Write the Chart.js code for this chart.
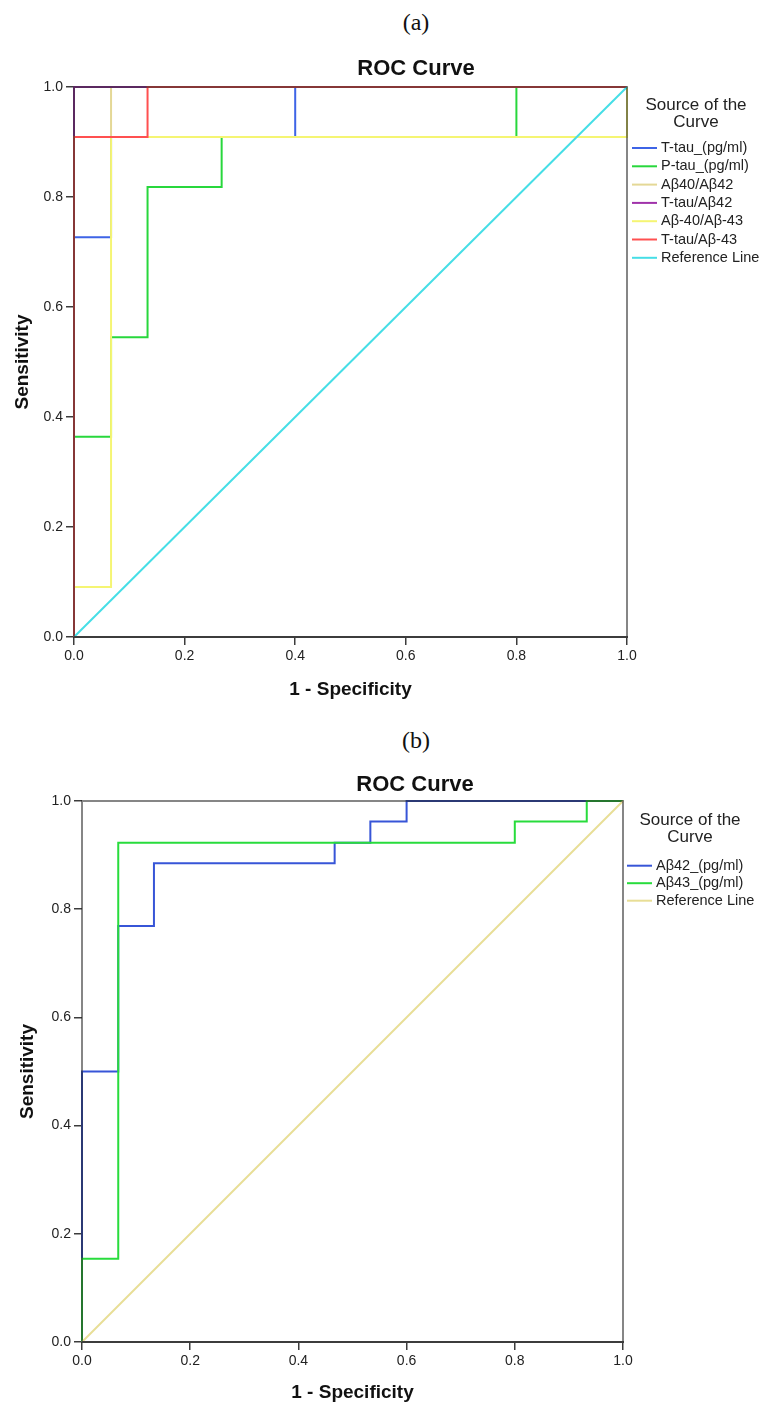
<!DOCTYPE html>
<html>
<head>
<meta charset="utf-8">
<title>ROC Curves</title>
<script src="https://cdn.jsdelivr.net/npm/chart.js@4.4.1/dist/chart.umd.min.js"></script>
<style>
  body { margin: 0; background: #fff; width: 763px; height: 1407px; position: relative; overflow: hidden; }
  .panel-label { position: absolute; left: 366px; width: 100px; text-align: center; line-height: 28px;
                 font-family: "Liberation Serif", "Times New Roman", serif; font-size: 24px; color: #111; }
  canvas { position: absolute; left: 0; }
</style>
</head>
<body>
<div class="panel-label" style="top:8px">(a)</div>
<canvas id="rocA" width="763" height="710" style="top:0"></canvas>
<div class="panel-label" style="top:726px">(b)</div>
<canvas id="rocB" width="763" height="697" style="top:710px"></canvas>

<script>
// ---- panel (a): ROC vertices (1 - specificity, sensitivity) ----
const labelsA = ['T-tau_(pg/ml)', 'P-tau_(pg/ml)', 'Aβ40/Aβ42', 'T-tau/Aβ42', 'Aβ-40/Aβ-43', 'T-tau/Aβ-43', 'Reference Line'];

const tTauX = [0, 0, 0.067, 0.067, 0.4, 0.4, 1];
const tTauY = [0, 0.727, 0.727, 0.909, 0.909, 1, 1];

const pTauX = [0, 0, 0.067, 0.067, 0.133, 0.133, 0.267, 0.267, 0.8, 0.8, 1];
const pTauY = [0, 0.364, 0.364, 0.545, 0.545, 0.818, 0.818, 0.909, 0.909, 1, 1];

const ab40ab42X = [0, 0, 0.067, 0.067, 1];
const ab40ab42Y = [0, 0.909, 0.909, 1, 1];

const tTauAb42X = [0, 0, 1];
const tTauAb42Y = [0, 1, 1];

const ab40ab43X = [0, 0, 0.067, 0.067, 1, 1];
const ab40ab43Y = [0, 0.091, 0.091, 0.909, 0.909, 1];

const tTauAb43X = [0, 0, 0.133, 0.133, 1];
const tTauAb43Y = [0, 0.909, 0.909, 1, 1];

const refX = [0, 1];
const refY = [0, 1];

// ---- panel (b) ----
const labelsB = ['Aβ42_(pg/ml)', 'Aβ43_(pg/ml)', 'Reference Line'];

const ab42X = [0, 0, 0.067, 0.067, 0.133, 0.133, 0.467, 0.467, 0.533, 0.533, 0.6, 0.6, 1];
const ab42Y = [0, 0.5, 0.5, 0.769, 0.769, 0.885, 0.885, 0.923, 0.923, 0.962, 0.962, 1, 1];

const ab43X = [0, 0, 0.067, 0.067, 0.8, 0.8, 0.933, 0.933, 1];
const ab43Y = [0, 0.154, 0.154, 0.923, 0.923, 0.962, 0.962, 1, 1];

const axisTicks = [0, 0.2, 0.4, 0.6, 0.8, 1.0];

// line colours, SPSS default palette
const coloursA = ['rgb(62,100,230)', 'rgb(40,215,60)', 'rgb(228,216,150)', 'rgb(160,50,170)',
                  'rgb(245,245,115)', 'rgb(255,80,80)', 'rgb(70,222,230)'];
const coloursB = ['rgb(55,85,215)', 'rgb(40,220,60)', 'rgb(232,222,150)'];

const FONT = '"Liberation Sans", Arial, sans-serif';

// frame, title and the SPSS style legend
function rocDecor(cfg) {
  return {
    id: 'rocDecor',
    afterDatasetsDraw(chart) {
      const { ctx, chartArea: a } = chart;
      ctx.save();
      // frame goes over the curves so edge segments darken like the original
      ctx.lineWidth = 2;
      ctx.strokeStyle = 'rgba(35,35,35,0.55)';
      ctx.strokeRect(a.left, a.top, a.right - a.left, a.bottom - a.top);
      ctx.strokeStyle = '#3c3c3c';
      ctx.beginPath();
      ctx.moveTo(a.left, a.bottom);
      ctx.lineTo(a.right + 1, a.bottom);
      ctx.stroke();
      ctx.restore();
    },
    afterDraw(chart) {
      const { ctx, chartArea: a } = chart;
      ctx.save();
      ctx.fillStyle = '#111';
      ctx.textBaseline = 'middle';
      ctx.textAlign = 'center';
      ctx.font = 'bold 22px ' + FONT;
      ctx.fillText('ROC Curve', cfg.titleX, cfg.titleY);

      ctx.fillStyle = '#222';
      ctx.font = '17px ' + FONT;
      ctx.fillText('Source of the', a.right + cfg.legTitleDx, a.top + cfg.legTitleDy);
      ctx.fillText('Curve', a.right + cfg.legTitleDx, a.top + cfg.legTitleDy + 17);

      ctx.textAlign = 'left';
      ctx.font = '14.5px ' + FONT;
      chart.data.datasets.forEach((ds, i) => {
        const y = a.top + cfg.legItemDy + i * cfg.legStep;
        ctx.strokeStyle = ds.borderColor;
        ctx.lineWidth = 2;
        ctx.beginPath();
        ctx.moveTo(a.right + cfg.legLineDx, y);
        ctx.lineTo(a.right + cfg.legLineDx + 25, y);
        ctx.stroke();
        ctx.fillText(ds.label, a.right + cfg.legLineDx + 29, y);
      });
      ctx.restore();
    }
  };
}

function buildRoc(id, labels, xs, ys, colours, cfg) {
  const datasets = labels.map((label, i) => ({
    label,
    data: xs[i].map((x, k) => ({ x, y: ys[i][k] })),
    showLine: true,
    borderColor: colours[i],
    backgroundColor: colours[i],
    borderWidth: 2,
    pointRadius: 0,
    tension: 0,
    fill: false,
    clip: false,
    order: -i // later series on top, as SPSS draws them
  }));

  const axis = (titleText, titlePad, afterFit) => ({
    type: 'linear',
    min: 0,
    max: 1,
    afterBuildTicks: s => { s.ticks = axisTicks.map(v => ({ value: v })); },
    ticks: {
      callback: v => Number(v).toFixed(1),
      font: { family: FONT, size: 14 },
      color: '#222',
      padding: 3,
      maxRotation: 0,
      autoSkip: false
    },
    grid: { drawOnChartArea: false, drawTicks: true, tickLength: 8, color: '#3c3c3c', lineWidth: 1.5 },
    border: { display: false },
    title: {
      display: true,
      text: titleText,
      color: '#111',
      font: { family: FONT, size: 19, weight: 'bold' },
      padding: titlePad
    },
    afterFit
  });

  return new Chart(document.getElementById(id), {
    type: 'scatter',
    data: { datasets },
    options: {
      responsive: false,
      animation: false,
      layout: { padding: { top: cfg.padTop, right: cfg.padRight, left: 0, bottom: 0 } },
      plugins: { legend: { display: false }, tooltip: { enabled: false } },
      scales: {
        x: axis('1 - Specificity', { top: 0, bottom: cfg.xTitlePad }, s => { s.height = cfg.xAxisH; }),
        y: axis('Sensitivity', { top: cfg.yTitlePad, bottom: 0 }, s => { s.width = cfg.yAxisW; })
      }
    },
    plugins: [rocDecor(cfg)]
  });
}

buildRoc('rocA', labelsA,
  [tTauX, pTauX, ab40ab42X, tTauAb42X, ab40ab43X, tTauAb43X, refX],
  [tTauY, pTauY, ab40ab42Y, tTauAb42Y, ab40ab43Y, tTauAb43Y, refY],
  coloursA,
  { padTop: 87, padRight: 136, xAxisH: 73, yAxisW: 74, xTitlePad: 8.6, yTitlePad: 11,
    titleX: 416, titleY: 69, legTitleDx: 69, legTitleDy: 18, legItemDy: 61, legStep: 18.3, legLineDx: 5 });

buildRoc('rocB', labelsB,
  [ab42X, ab43X, refX],
  [ab42Y, ab43Y, refY],
  coloursB,
  { padTop: 91, padRight: 140, xAxisH: 65, yAxisW: 82, xTitlePad: 2.6, yTitlePad: 16.6,
    titleX: 415, titleY: 75, legTitleDx: 67, legTitleDy: 19, legItemDy: 64.7, legStep: 17.5, legLineDx: 4 });
</script>
</body>
</html>
